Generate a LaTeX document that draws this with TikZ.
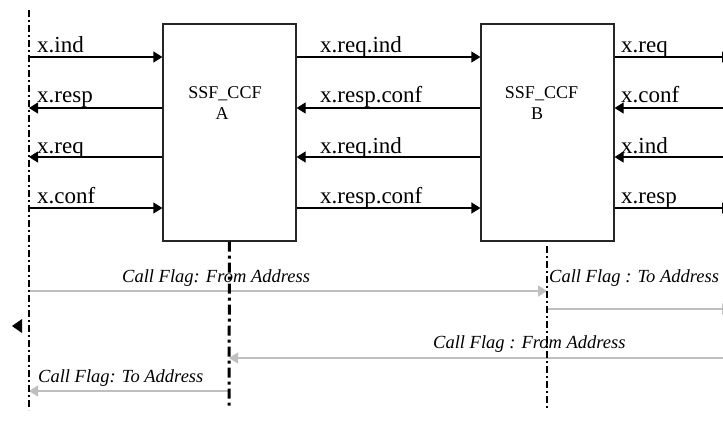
\documentclass[tikz,border=0pt]{standalone}
\usepackage{fontspec}
\setmainfont{Liberation Serif}
\usetikzlibrary{arrows.meta}
\begin{document}
\begin{tikzpicture}[x=1pt,y=-1pt,
 box/.style={draw=black!85, line width=1.2pt, minimum width=133pt, minimum height=217pt, inner sep=0pt},
 msg/.style={line width=1.2pt, -{Triangle[length=9pt,width=11pt]}},
 flag/.style={draw=black!25, line width=1.4pt, -{Triangle[length=9pt,width=11pt,fill=black!25]}},
 lbl/.style={font=\fontsize{23}{25}\selectfont, anchor=base west, inner sep=0pt},
 blbl/.style={font=\fontsize{18}{20}\selectfont, anchor=base, inner sep=0pt},
 flbl/.style={font=\fontsize{18.5}{20}\selectfont\itshape, anchor=base west, inner sep=0pt},
 life/.style={line width=1.6pt, dash pattern=on 7pt off 3pt on 2pt off 3pt},
 lifeA/.style={line width=3pt, dash pattern=on 10pt off 4pt on 3pt off 4pt},
]
\useasboundingbox (0,0) rectangle (723,421);
\clip (0,0) rectangle (723,421);

% boxes
\node[box] (A) at (229.5,132.5) {};
\node[box] (B) at (547.5,132.5) {};
\node[blbl] (Aname) at (225,98) {SSF\_CCF};
\node[blbl] (Aletter) at (222,119) {A};
\node[blbl] (Bname) at (541.5,98) {SSF\_CCF};
\node[blbl] (Bletter) at (537,119) {B};

% lifeline coordinates
\coordinate (Ltop) at (29,10);
\coordinate (Lbot) at (29,410);
\coordinate (Abot) at (229,409);
\coordinate (Btop) at (547,246);
\coordinate (Bbot) at (547,409);

% left side row points
\coordinate (L1) at (29,57);
\coordinate (L2) at (29,108);
\coordinate (L3) at (29,157);
\coordinate (L4) at (29,208);
% right edge row points
\coordinate (R1) at (731,57);
\coordinate (R2) at (723,108);
\coordinate (R3) at (723,157);
\coordinate (R4) at (731,208);

% left messages
\draw[msg] (L1) -- (A.west |- L1);
\draw[msg] (A.west |- L2) -- (L2);
\draw[msg] (A.west |- L3) -- (L3);
\draw[msg] (L4) -- (A.west |- L4);
\node[lbl] (t1) at (37,52) {x.ind};
\node[lbl] (t2) at (37,102) {x.resp};
\node[lbl] (t3) at (37,153) {x.req};
\node[lbl] (t4) at (37,203) {x.conf};

% middle messages
\draw[msg] (A.east |- L1) -- (B.west |- L1);
\draw[msg] (B.west |- L2) -- (A.east |- L2);
\draw[msg] (B.west |- L3) -- (A.east |- L3);
\draw[msg] (A.east |- L4) -- (B.west |- L4);
\node[lbl] (m1) at (320,52) {x.req.ind};
\node[lbl] (m2) at (320,102) {x.resp.conf};
\node[lbl] (m3) at (320,153) {x.req.ind};
\node[lbl] (m4) at (320,203) {x.resp.conf};

% right messages
\draw[msg] (B.east |- R1) -- (R1);
\draw[msg] (R2) -- (B.east |- R2);
\draw[msg] (R3) -- (B.east |- R3);
\draw[msg] (B.east |- R4) -- (R4);
\node[lbl] (r1) at (621,52) {x.req};
\node[lbl] (r2) at (621,102) {x.conf};
\node[lbl] (r3) at (621,153) {x.ind};
\node[lbl] (r4) at (621,203) {x.resp};

% call flag arrows
\coordinate (F1s) at (29,291);
\coordinate (F2e) at (731,309);
\coordinate (F3s) at (723,358);
\coordinate (F4e) at (29,391);
\draw[flag] (F1s) -- (Btop |- F1s);
\draw[flag] (Btop |- F2e) -- (F2e);
\draw[flag] (F3s) -- (Abot |- F3s);
\draw[flag] (Abot |- F4e) -- (F4e);
\node[flbl] (f1) at (122,282) {Call Flag: From Address};
\node[flbl] (f2) at (549,282) {Call Flag : To Address};
\node[flbl] (f3) at (433,348) {Call Flag : From Address};
\node[flbl] (f4) at (38,382) {Call Flag: To Address};

% lifelines
\draw[life] (Ltop) -- (Lbot);
\draw[lifeA] (A.south) -- (Abot);
\draw[life, line width=2pt] (Btop) -- (Bbot);

% stray arrowhead
\fill (12,326) -- (22,319) -- (22,333) -- cycle;
\end{tikzpicture}
\end{document}
